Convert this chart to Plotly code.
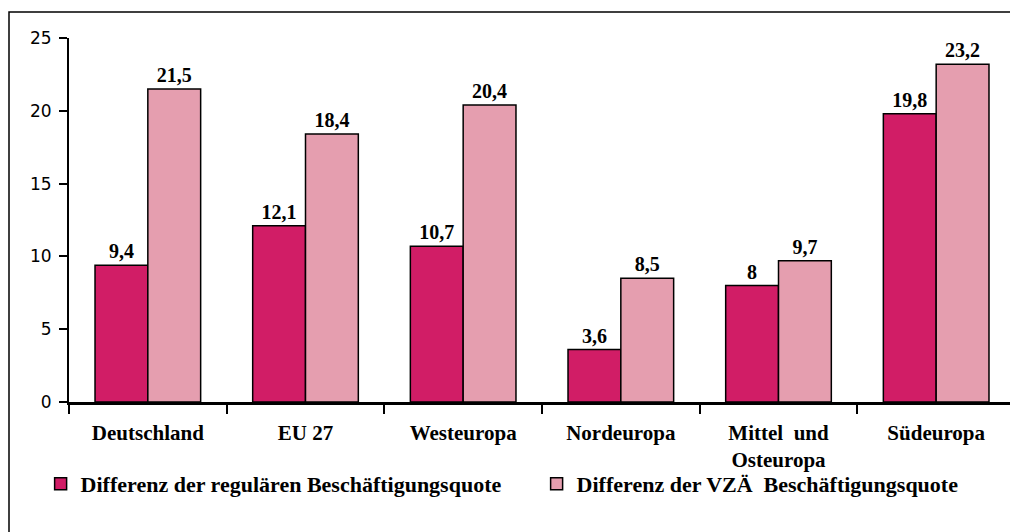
import plotly.graph_objects as go

categories = ["Deutschland", "EU 27", "Westeuropa", "Nordeuropa", "Mittel  und<br>Osteuropa", "Südeuropa"]
regular = [9.4, 12.1, 10.7, 3.6, 8.0, 19.8]
vza = [21.5, 18.4, 20.4, 8.5, 9.7, 23.2]
regular_labels = ["9,4", "12,1", "10,7", "3,6", "8", "19,8"]
vza_labels = ["21,5", "18,4", "20,4", "8,5", "9,7", "23,2"]
yticks = [0, 5, 10, 15, 20, 25]

serif = "Liberation Serif"
lab_font = dict(family=serif, size=20, color="black")

fig = go.Figure()
fig.add_trace(go.Bar(
    x=categories, y=regular, name="<b>Differenz der regulären Beschäftigungsquote</b>",
    marker=dict(color="#D11D66", line=dict(color="black", width=1.5)),
    text=[f"<b>{t}</b>" for t in regular_labels], textposition="outside",
    textfont=lab_font, cliponaxis=False,
))
fig.add_trace(go.Bar(
    x=categories, y=vza, name="<b>Differenz der VZÄ  Beschäftigungsquote</b>",
    marker=dict(color="#E59EAF", line=dict(color="black", width=1.5)),
    text=[f"<b>{t}</b>" for t in vza_labels], textposition="outside",
    textfont=lab_font, cliponaxis=False,
))

fig.update_layout(
    width=1010, height=524,
    margin=dict(l=61, r=3, t=30, b=130, autoexpand=False),
    paper_bgcolor="white", plot_bgcolor="white",
    barmode="group", bargap=0.33, bargroupgap=0,
    showlegend=True,
    legend=dict(orientation="h", x=-0.030, xanchor="left", y=-0.225, yanchor="middle",
                font=dict(family=serif, size=22, color="black"),
                bgcolor="rgba(0,0,0,0)",
                entrywidth=451, traceorder="normal"),
    xaxis=dict(
        type="category", tickson="boundaries", ticks="outside", ticklen=9, tickwidth=2,
        tickcolor="black", showline=True, linecolor="black", linewidth=2.5,
        tickfont=dict(family=serif, size=21, color="black"),
        ticklabelstandoff=10, showgrid=False,
        tickvals=categories, ticktext=[f"<b>{c}</b>" for c in categories],
    ),
    yaxis=dict(
        range=[0, 25], tickvals=yticks, ticks="outside", ticklen=8, tickwidth=2,
        tickcolor="black", showline=True, linecolor="black", linewidth=2,
        showgrid=False, zeroline=False,
        tickfont=dict(family="DejaVu Sans", size=17, color="black"),
        ticklabelstandoff=4,
    ),
)

fig.add_shape(type="rect", xref="paper", yref="paper",
              x0=(9 - 69) / 946, x1=1.2, y0=-0.6, y1=1 + 26 / 364,
              line=dict(color="black", width=1.5), fillcolor="rgba(0,0,0,0)", layer="below")

fig.write_html("out.html")
